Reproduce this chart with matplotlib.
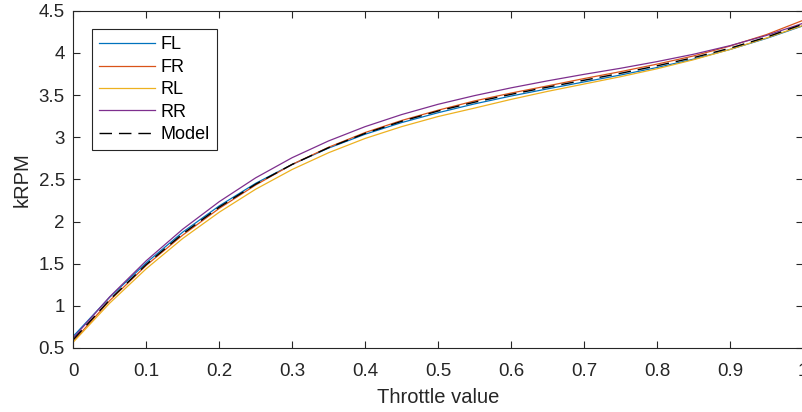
import matplotlib
matplotlib.use("Agg")
import matplotlib.pyplot as plt

throttle = [0.00, 0.05, 0.10, 0.15, 0.20, 0.25, 0.30, 0.35, 0.40, 0.45, 0.50,
            0.55, 0.60, 0.65, 0.70, 0.75, 0.80, 0.85, 0.90, 0.95, 1.00]

fl = [0.640, 1.103, 1.510, 1.874, 2.185, 2.453, 2.677, 2.871, 3.035, 3.173, 3.290,
      3.395, 3.488, 3.573, 3.655, 3.737, 3.826, 3.925, 4.040, 4.171, 4.320]
fr = [0.580, 1.063, 1.480, 1.839, 2.155, 2.433, 2.677, 2.881, 3.055, 3.198, 3.320,
      3.430, 3.523, 3.608, 3.695, 3.777, 3.866, 3.963, 4.080, 4.216, 4.385]
rl = [0.570, 1.033, 1.440, 1.799, 2.110, 2.383, 2.617, 2.816, 2.985, 3.125, 3.245,
      3.345, 3.448, 3.543, 3.630, 3.717, 3.811, 3.918, 4.040, 4.176, 4.325]
rr = [0.620, 1.108, 1.535, 1.909, 2.235, 2.518, 2.757, 2.956, 3.125, 3.268, 3.390,
      3.493, 3.585, 3.668, 3.745, 3.817, 3.896, 3.983, 4.085, 4.206, 4.350]
model = [0.600, 1.073, 1.490, 1.854, 2.170, 2.443, 2.677, 2.876, 3.045, 3.188, 3.310,
         3.415, 3.508, 3.593, 3.675, 3.757, 3.846, 3.943, 4.055, 4.186, 4.340]

series_names = ["FL", "FR", "RL", "RR"]
series_colors = ["#0072BD", "#D95319", "#EDB120", "#7E2F8E"]

x_ticks = [0, 0.1, 0.2, 0.3, 0.4, 0.5, 0.6, 0.7, 0.8, 0.9, 1]
x_tick_labels = ["0", "0.1", "0.2", "0.3", "0.4", "0.5", "0.6", "0.7", "0.8", "0.9", "1"]
y_ticks = [0.5, 1, 1.5, 2, 2.5, 3, 3.5, 4, 4.5]
y_tick_labels = ["0.5", "1", "1.5", "2", "2.5", "3", "3.5", "4", "4.5"]

plt.rcParams['font.family'] = ['Liberation Sans', 'DejaVu Sans']

W, H = 802, 412
fig = plt.figure(figsize=(W / 100, H / 100), dpi=100)
ax = fig.add_axes([73.3 / W, 64 / H, 729.5 / W, 337.3 / H])

for vals, name, col in zip([fl, fr, rl, rr], series_names, series_colors):
    ax.plot(throttle, vals, color=col, lw=0.9, label=name)
ax.plot(throttle, model, color="black", lw=1.0, ls=(0, (9, 5)), label="Model")

ax.set_xlim(0, 1)
ax.set_ylim(0.5, 4.5)
ax.set_xticks(x_ticks)
ax.set_xticklabels(x_tick_labels)
ax.set_yticks(y_ticks)
ax.set_yticklabels(y_tick_labels)

tc = "#262626"
for s in ax.spines.values():
    s.set_color(tc)
    s.set_linewidth(0.8)
ax.tick_params(direction="in", length=5, width=0.8, colors=tc, labelsize=13.5,
               top=True, right=True)
ax.tick_params(axis="x", pad=10.5)
ax.tick_params(axis="y", pad=6)
ax.set_xlabel("Throttle value", fontsize=14.5, color=tc, labelpad=6)
ax.set_ylabel("kRPM", fontsize=14.5, color=tc, labelpad=5)

leg = ax.legend(loc="upper left", bbox_to_anchor=(0.026, 0.945), borderaxespad=0,
                fontsize=13, handlelength=3.1, labelspacing=0.3, handletextpad=0.3,
                borderpad=0.4, fancybox=False, framealpha=1, edgecolor=tc)
leg.get_frame().set_linewidth(0.8)

fig.savefig("out.png", dpi=100)
